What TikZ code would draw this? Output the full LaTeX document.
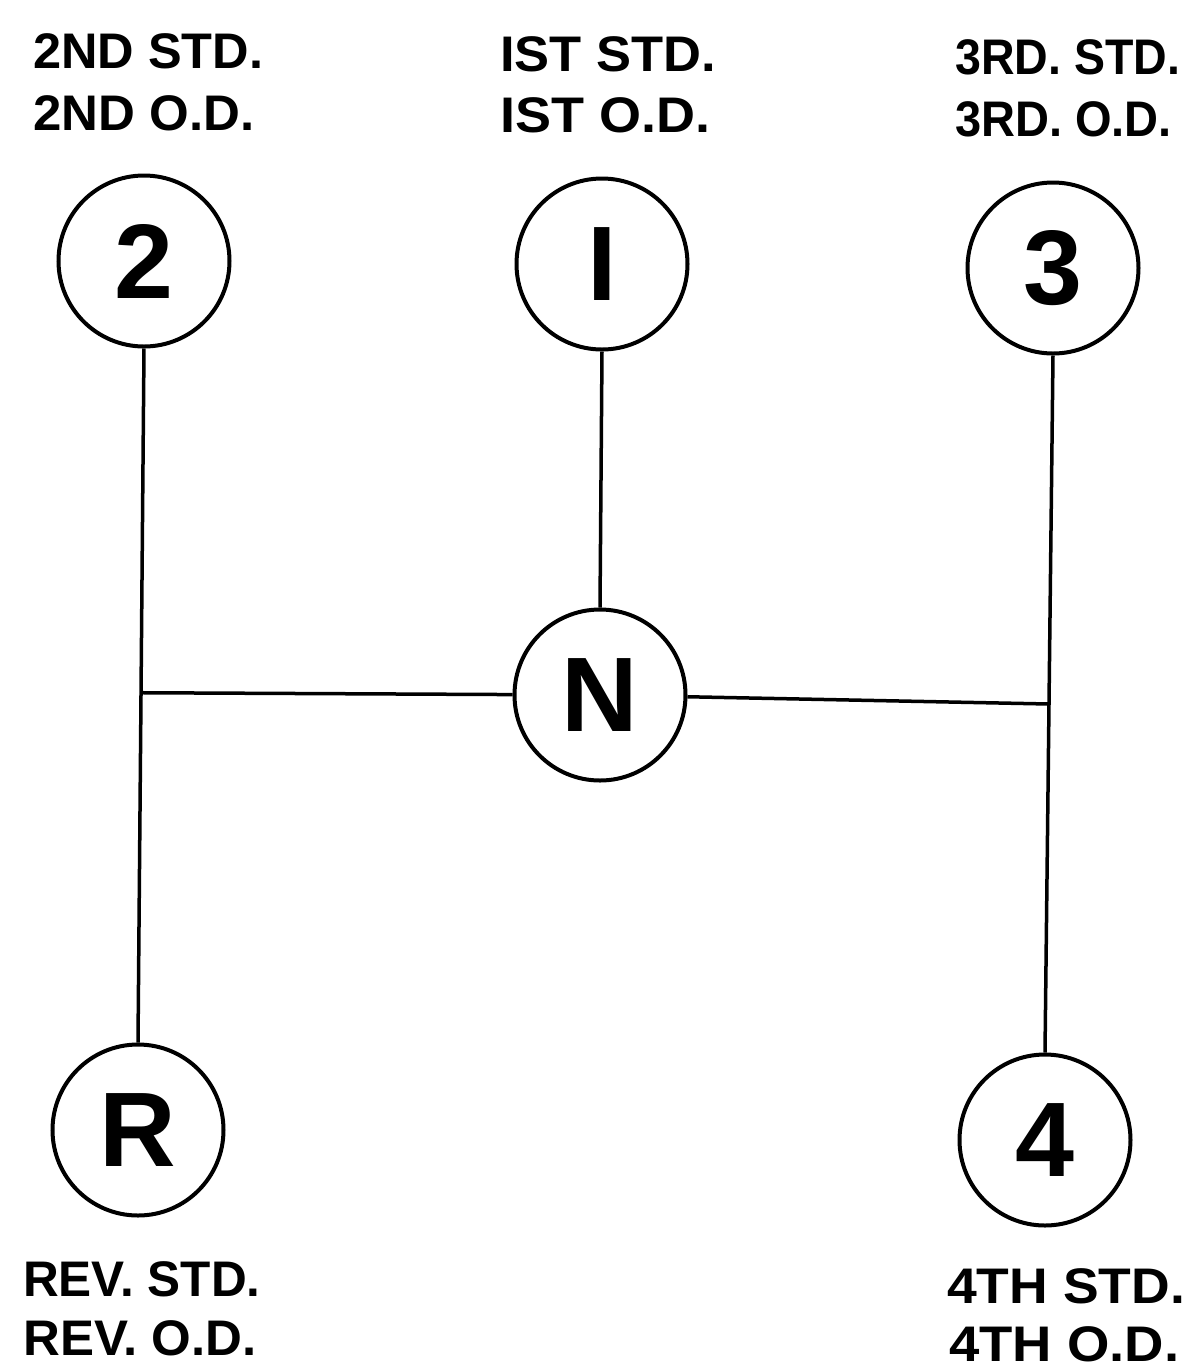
\documentclass[tikz,border=0pt]{standalone}
\usepackage{fontspec}
\setmainfont{Liberation Sans}
\usetikzlibrary{calc}

\tikzset{
  gear/.style={circle, draw, line width=4pt, minimum size=171pt, inner sep=0pt,
               font=\fontsize{106}{106}\selectfont\bfseries},
  gatelabel/.style={anchor=base west, inner sep=0pt,
               font=\fontsize{50}{50}\selectfont\bfseries},
  rail/.style={line width=3.5pt}
}
% horizontally stretched lettering
\newcommand{\wide}[2]{\scalebox{#1}[1]{#2}}

\begin{document}
\begin{tikzpicture}[x=1pt, y=-1pt]
  \useasboundingbox (0,0) rectangle (1191,1369);

  % shift positions
  \node[gear] (c2) at (144,261)  {2};
  \node[gear] (c1) at (602,264)  {I};
  \node[gear] (c3) at (1053,268) {3};
  \node[gear] (cN) at (600,695)  {N};
  \node[gear] (cR) at (138,1130) {R};
  \node[gear] (c4) at (1045,1140){4};

  % shift gate
  \draw[rail] (c2.south) -- (cR.north);
  \draw[rail] (c1.south) -- (cN.north);
  \draw[rail] (c3.south) -- (c4.north);
  \coordinate (jl) at ($(c2.south)!0.496!(cR.north)$);
  \coordinate (jr) at ($(c3.south)!0.5!(c4.north)$);
  \draw[rail] (jl) -- (cN);
  \draw[rail] (cN) -- (jr);

  % gear labels
  \node[gatelabel] (t2a) at (33,68)   {\wide{1.01}{2ND STD.}};
  \node[gatelabel] (t2b) at (33,130)  {\wide{1.02}{2ND O.D.}};
  \node[gatelabel] (t1a) at (500,71)  {\wide{1.05}{IST STD.}};
  \node[gatelabel] (t1b) at (500,132) {\wide{1.08}{IST O.D.}};
  \node[gatelabel] (t3a) at (955,74)  {\wide{0.93}{3RD. STD.}};
  \node[gatelabel] (t3b) at (955,136) {\wide{0.94}{3RD. O.D.}};
  \node[gatelabel] (tRa) at (23,1296)  {\wide{0.99}{REV. STD.}};
  \node[gatelabel] (tRb) at (23,1355)  {\wide{1.02}{REV. O.D.}};
  \node[gatelabel] (t4a) at (947,1303) {\wide{1.07}{4TH STD.}};
  \node[gatelabel] (t4b) at (949,1361) {\wide{1.09}{4TH O.D.}};
\end{tikzpicture}
\end{document}
